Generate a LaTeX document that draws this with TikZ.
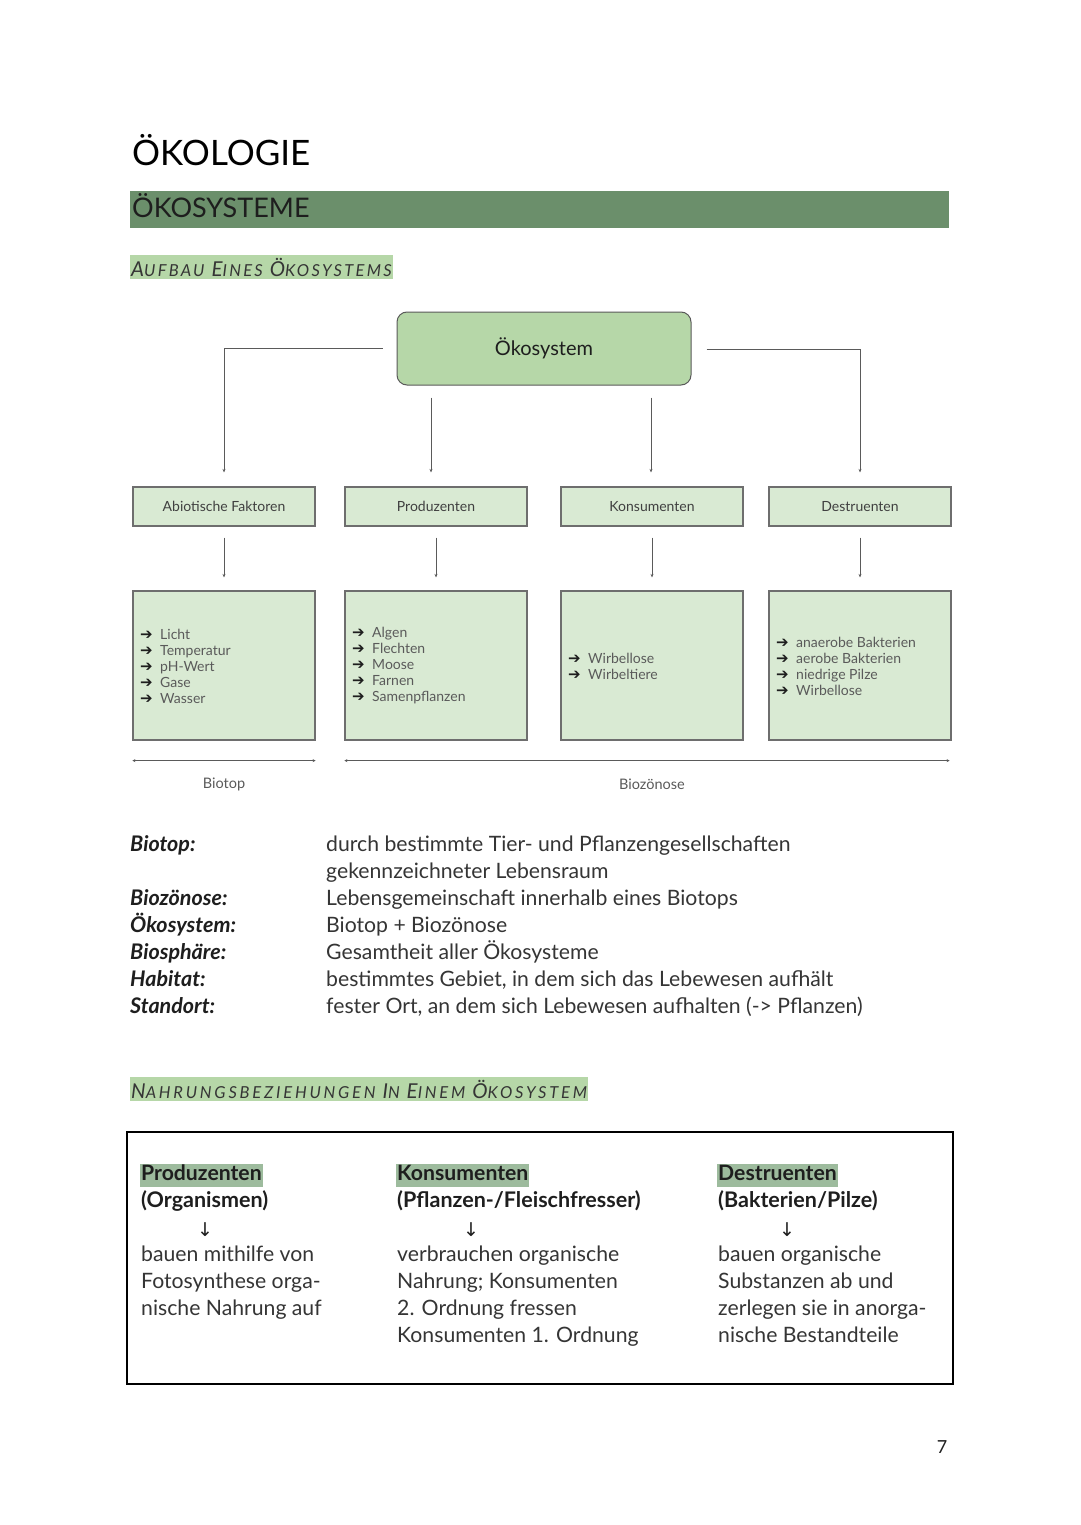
\documentclass[tikz,border=0pt]{standalone}
\usepackage{fontspec}
\setmainfont{Lato}
\newfontfamily\symfont{DejaVu Sans}
\usetikzlibrary{arrows.meta}
\definecolor{bandgreen}{HTML}{6B8F6B}
\definecolor{lightgreen}{HTML}{B6D7A8}
\definecolor{boxgreen}{HTML}{D9EAD3}
\definecolor{hlgreen}{HTML}{9DBB9D}
\definecolor{linegray}{HTML}{5A5A5A}
\definecolor{boxborder}{HTML}{6E6E6E}
\definecolor{txtgray}{HTML}{5A5A5A}
\definecolor{darktxt}{HTML}{1E1E1E}
\newcommand\Arr{\makebox[20pt][l]{\symfont\fontsize{15}{16}\selectfont\color{darktxt}➔}}
\newcommand\SCa[2]{{\fontsize{20.5}{20.5}\selectfont\addfontfeatures{LetterSpace=14}#1}{\fontsize{16.5}{16.5}\selectfont\addfontfeatures{LetterSpace=14}#2}}
\newcommand\SCb[2]{{\fontsize{20.5}{20.5}\selectfont\addfontfeatures{LetterSpace=17}#1}{\fontsize{16.5}{16.5}\selectfont\addfontfeatures{LetterSpace=17}#2}}
\newcommand\SCsp{\hspace{7pt}}
\tikzset{
  conn/.style={draw=linegray, line width=0.8pt, -{Stealth[length=3.5pt,width=3pt]}},
  hbox/.style={draw=boxborder, fill=boxgreen, line width=1.2pt, minimum width=182pt, minimum height=39pt, inner sep=0pt, font=\fontsize{14}{14}\selectfont, text=darktxt!85},
  lbox/.style={draw=boxborder, fill=boxgreen, line width=1.2pt, minimum width=182pt, minimum height=149pt, inner sep=0pt},
  lst/.style={anchor=west, align=left, font=\fontsize{14}{16}\selectfont, text=txtgray, inner sep=0pt},
  spancap/.style={font=\fontsize{14.5}{14.5}\selectfont, text=txtgray, inner sep=0pt},
  lab/.style={anchor=west, inner sep=0pt, text height=15pt, text depth=4pt, font=\fontsize{21.5}{21.5}\selectfont\bfseries\itshape, text=darktxt},
  deftx/.style={anchor=west, inner sep=0pt, text height=15pt, text depth=4pt, font=\fontsize{21.2}{21.2}\selectfont, text=darktxt!90},
  colhead/.style={anchor=west, fill=hlgreen, inner xsep=1pt, inner ysep=2pt, text height=15pt, text depth=4pt, font=\fontsize{21.2}{21.2}\selectfont\bfseries, text=darktxt},
  colsub/.style={anchor=west, inner sep=0pt, text height=15pt, text depth=4pt, font=\fontsize{21.5}{21.5}\selectfont\bfseries, text=darktxt},
  coltx/.style={anchor=west, inner sep=0pt, text height=15pt, text depth=4pt, font=\fontsize{21.2}{21.2}\selectfont, text=darktxt!90},
  darrow/.style={inner sep=0pt, font=\symfont\fontsize{19}{19}\selectfont, text=darktxt},
  subhead/.style={anchor=west, fill=lightgreen, inner xsep=1pt, inner ysep=0pt, minimum height=24pt, font=\itshape, text=darktxt!90},
}
\begin{document}
\begin{tikzpicture}[x=1pt,y=-1pt]
\useasboundingbox (0,0) rectangle (1080,1525);
\fill[white] (0,0) rectangle (1080,1525);

% headings
\node (title) [anchor=base west, inner sep=0pt, font=\fontsize{35}{35}\selectfont, text=black] at (132,166) {ÖKOLOGIE};
\node (band) [fill=bandgreen, anchor=north west, minimum width=819pt, minimum height=37pt, inner sep=0pt] at (130,191) {};
\node (bandtxt) [anchor=base west, inner sep=0pt, font=\fontsize{27}{27}\selectfont, text=darktxt] at (132,217) {ÖKOSYSTEME};
\node (sub1) [subhead] at (130,267) {\SCa{A}{UFBAU}\SCsp\SCa{E}{INES}\SCsp\SCa{Ö}{KOSYSTEMS}};

% top box
\node (eko) [draw=linegray, fill=lightgreen, rounded corners=10pt, line width=1pt, minimum width=294pt, minimum height=73pt, font=\fontsize{20}{20}\selectfont, text=darktxt] at (544,348.5) {Ökosystem};

% row 1
\node (abio) [hbox] at (224,506.5) {Abiotische Faktoren};
\node (prod) [hbox] at (436,506.5) {Produzenten};
\node (kons) [hbox] at (652,506.5) {Konsumenten};
\node (dest) [hbox] at (860,506.5) {Destruenten};

% row 2
\node (abiol) [lbox] at (224,665.5) {};
\node (prodl) [lbox] at (436,665.5) {};
\node (konsl) [lbox] at (652,665.5) {};
\node (destl) [lbox] at (860,665.5) {};

\node (abiotx) [lst] at (140,666) {\Arr Licht\\\Arr Temperatur\\\Arr pH-Wert\\\Arr Gase\\\Arr Wasser};
\node (prodtx) [lst] at (352,666) {\Arr Algen\\\Arr Flechten\\\Arr Moose\\\Arr Farnen\\\Arr Samenpflanzen};
\node (konstx) [lst] at (568,666) {\Arr Wirbellose\\\Arr Wirbeltiere};
\node (desttx) [lst] at (776,666) {\Arr anaerobe Bakterien\\\Arr aerobe Bakterien\\\Arr niedrige Pilze\\\Arr Wirbellose};

% connectors from top box
\draw[conn] ([xshift=-14pt]eko.west) -| ([yshift=14pt]abio.north);
\draw[conn] ([xshift=15pt,yshift=-1pt]eko.east) -| ([yshift=14pt]dest.north);
\draw[conn] ([xshift=-113pt,yshift=-12pt]eko.south) -- ([xshift=-5pt,yshift=14pt]prod.north);
\draw[conn] ([xshift=107pt,yshift=-12pt]eko.south) -- ([xshift=-1pt,yshift=14pt]kons.north);

% connectors row1 -> row2
\draw[conn] ([yshift=-11pt]abio.south) -- ([yshift=13pt]abiol.north);
\draw[conn] ([yshift=-11pt]prod.south) -- ([yshift=13pt]prodl.north);
\draw[conn] ([yshift=-11pt]kons.south) -- ([yshift=13pt]konsl.north);
\draw[conn] ([yshift=-11pt]dest.south) -- ([yshift=13pt]destl.north);

% spans
\draw[draw=linegray, line width=0.8pt, {Stealth[length=3pt,width=3pt]}-{Stealth[length=3pt,width=3pt]}] ([yshift=-20pt]abiol.south west) -- ([yshift=-20pt]abiol.south east);
\draw[draw=linegray, line width=0.8pt, {Stealth[length=3pt,width=3pt]}-{Stealth[length=3pt,width=3pt]}] ([yshift=-20pt]prodl.south west) -- ([yshift=-20pt,xshift=-2pt]destl.south east);
\node (biotop) [spancap] at (224,784) {Biotop};
\node (biozoe) [spancap] at (652,784) {Biozönose};

% definitions
\node (l1) [lab] at (130,846) {Biotop:};
\node (l2) [lab] at (130,900) {Biozönose:};
\node (l3) [lab] at (130,927) {Ökosystem:};
\node (l4) [lab] at (130,954) {Biosphäre:};
\node (l5) [lab] at (130,981) {Habitat:};
\node (l6) [lab] at (130,1008) {Standort:};
\node (d1a) [deftx] at (326,846) {durch bestimmte Tier- und Pflanzengesellschaften};
\node (d1b) [deftx] at (326,873) {gekennzeichneter Lebensraum};
\node (d2) [deftx] at (326,900) {Lebensgemeinschaft innerhalb eines Biotops};
\node (d3) [deftx] at (326,927) {Biotop + Biozönose};
\node (d4) [deftx] at (326,954) {Gesamtheit aller Ökosysteme};
\node (d5) [deftx] at (326,981) {bestimmtes Gebiet, in dem sich das Lebewesen aufhält};
\node (d6) [deftx] at (326,1008) {fester Ort, an dem sich Lebewesen aufhalten (-> Pflanzen)};

% section 2
\node (sub2) [subhead] at (130,1089) {\SCb{N}{AHRUNGSBEZIEHUNGEN}\SCsp\SCb{I}{N}\SCsp\SCb{E}{INEM}\SCsp\SCb{Ö}{KOSYSTEM}};
\node (nbox) [draw=black, line width=1.8pt, minimum width=826pt, minimum height=252pt, anchor=north west, inner sep=0pt] at (126,1131) {};

\node (h1) [colhead] at (140,1175) {Produzenten};
\node (s1) [colsub] at (141,1202) {(Organismen)};
\node (a1) [darrow] at (205,1230) {↓};
\node (t1a) [coltx] at (141,1256) {bauen mithilfe von};
\node (t1b) [coltx] at (141,1283) {Fotosynthese orga-};
\node (t1c) [coltx] at (141,1310) {nische Nahrung auf};

\node (h2) [colhead] at (396,1175) {Konsumenten};
\node (s2) [colsub] at (397,1202) {(Pflanzen-/Fleischfresser)};
\node (a2) [darrow] at (471,1230) {↓};
\node (t2a) [coltx] at (397,1256) {verbrauchen organische};
\node (t2b) [coltx] at (397,1283) {Nahrung; Konsumenten};
\node (t2c) [coltx] at (397,1310) {2. Ordnung fressen};
\node (t2d) [coltx] at (397,1337) {Konsumenten 1. Ordnung};

\node (h3) [colhead] at (717,1175) {Destruenten};
\node (s3) [colsub] at (718,1202) {(Bakterien/Pilze)};
\node (a3) [darrow] at (787,1230) {↓};
\node (t3a) [coltx] at (718,1256) {bauen organische};
\node (t3b) [coltx] at (718,1283) {Substanzen ab und};
\node (t3c) [coltx] at (718,1310) {zerlegen sie in anorga-};
\node (t3d) [coltx] at (718,1337) {nische Bestandteile};

\node (pnum) [inner sep=0pt, font=\fontsize{18}{18}\selectfont, text=darktxt] at (942,1447) {7};
\end{tikzpicture}
\end{document}
